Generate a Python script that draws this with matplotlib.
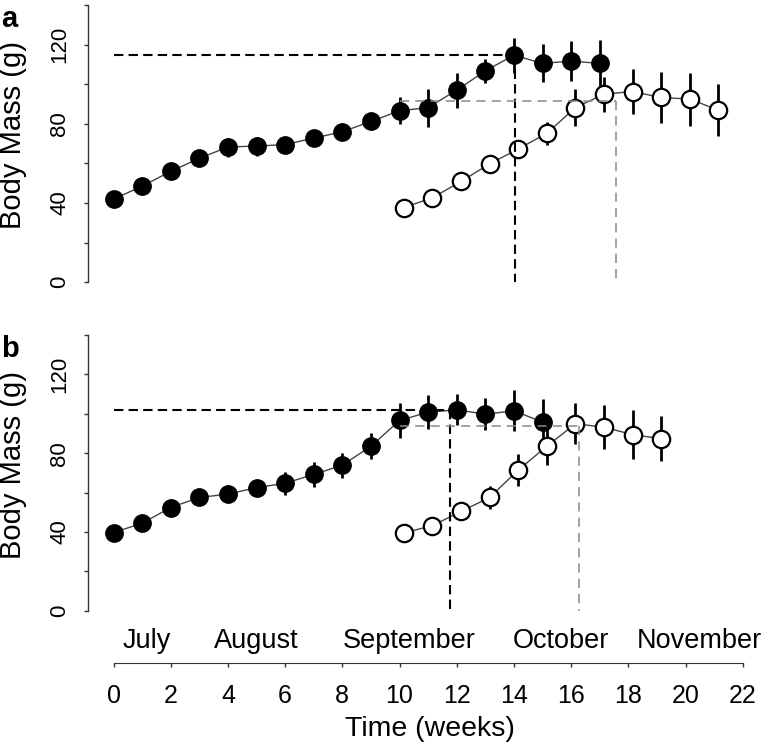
import matplotlib
matplotlib.use("Agg")
import matplotlib.pyplot as plt
from matplotlib.ticker import MultipleLocator

plt.rcParams['font.family'] = ['Liberation Sans', 'DejaVu Sans']

# Panel a: filled = first group, open = second group (weeks, mass g, sd)
weeks_a_fill = [0, 1, 2, 3, 4, 5, 6, 7, 8, 9, 10, 11, 12, 13, 14, 15, 16, 17]
mass_a_fill = [42, 48.5, 56, 62.6, 68.3, 68.8, 69.5, 72.8, 76, 81.2, 86.6, 88.2, 97, 106.7, 114.7, 110.5, 111.7, 110.5]
err_a_fill = [2, 2, 2.5, 3, 4.8, 4.8, 4, 3.5, 3.5, 4, 6.7, 9.6, 8.8, 5.9, 8.8, 9.6, 10, 12]

weeks_a_open = [10.15, 11.15, 12.15, 13.15, 14.15, 15.15, 16.15, 17.15, 18.15, 19.15, 20.15, 21.15]
mass_a_open = [37.7, 42.7, 50.9, 59.8, 67.3, 75.2, 88.2, 95, 96.3, 93.3, 92.5, 86.9]
err_a_open = [1.5, 2, 2, 4, 4.5, 5.9, 9.2, 8.8, 11.3, 12.8, 13.4, 13.2]

# Panel b
weeks_b_fill = [0, 1, 2, 3, 4, 5, 6, 7, 8, 9, 10, 11, 12, 13, 14, 15]
mass_b_fill = [39.7, 44.4, 52.4, 57.5, 59.2, 62.5, 64.7, 69.2, 73.9, 83.5, 96.6, 100.8, 102, 99.8, 101.5, 95.8]
err_b_fill = [2, 2, 2.5, 3, 3.5, 4, 5.9, 6.3, 6.3, 6.7, 8.8, 8.6, 7.8, 8, 10.5, 11.6]

weeks_b_open = [10.15, 11.15, 12.15, 13.15, 14.15, 15.15, 16.15, 17.15, 18.15, 19.15]
mass_b_open = [39.5, 43.2, 50.4, 57.5, 71.4, 83.5, 94.9, 93.2, 89.4, 87.4]
err_b_open = [1.5, 2, 3, 5.9, 8.3, 9.7, 10.5, 11.2, 12.4, 11.5]

# guide lines: (week, mass) of the peak, and start week of the horizontal dash
peak_a_fill = (14.05, 114.7)
peak_a_open = (17.57, 91.6)
peak_b_fill = (11.75, 102)
peak_b_open = (16.27, 93.6)
start_fill = 0
start_open = 10

month_names = ['July', 'August', 'September', 'October', 'November']
month_pos = [1.15, 4.98, 10.34, 15.64, 20.5]
week_ticks = [0, 2, 4, 6, 8, 10, 12, 14, 16, 18, 20, 22]

W, H = 774, 752
XLIM = (-0.892, 23.094)


def px_rect(left, top, right, bottom):
    return [left / W, 1 - bottom / H, (right - left) / W, (bottom - top) / H]


def draw_panel(ax, wf, mf, ef, wo, mo, eo, pk_fill, pk_open, letter):
    # thin connecting lines under everything
    ax.plot(wf, mf, color='#444444', lw=1.0, zorder=1)
    ax.plot(wo, mo, color='#444444', lw=1.0, zorder=1)
    ax.errorbar(wf, mf, yerr=ef, fmt='none', ecolor='black', elinewidth=2.0, capsize=0, zorder=2)
    ax.errorbar(wo, mo, yerr=eo, fmt='none', ecolor='black', elinewidth=2.0, capsize=0, zorder=2)
    ax.plot(wf, mf, 'o', ms=12.5, mfc='black', mec='black', mew=1.0, ls='none', zorder=3)
    ax.plot(wo, mo, 'o', ms=12.5, mfc='white', mec='black', mew=1.6, ls='none', zorder=3)

    # dashed guides drawn on top
    ax.plot([start_fill, pk_fill[0]], [pk_fill[1], pk_fill[1]], color='black', lw=1.5,
            dashes=(4.5, 2.5), zorder=4)
    ax.plot([pk_fill[0], pk_fill[0]], [pk_fill[1], 0], color='black', lw=1.5,
            dashes=(4.5, 2.5), zorder=4)
    ax.plot([start_open, pk_open[0]], [pk_open[1], pk_open[1]], color='#888888', lw=1.1,
            dashes=(6, 4), zorder=4)
    ax.plot([pk_open[0], pk_open[0]], [pk_open[1], 0], color='#888888', lw=1.1,
            dashes=(6, 4), zorder=4)

    ax.set_xlim(*XLIM)
    ax.set_ylim(0, 140)
    for s in ['top', 'right', 'bottom']:
        ax.spines[s].set_visible(False)
    ax.spines['left'].set_color('#333333')
    ax.spines['left'].set_linewidth(1.0)
    ax.set_xticks([])
    ax.yaxis.set_major_locator(MultipleLocator(40))
    ax.yaxis.set_minor_locator(MultipleLocator(20))
    ax.tick_params(axis='y', which='both', length=2.8, width=1.0, color='#333333',
                   labelsize=16, pad=10)
    plt.setp(ax.get_yticklabels(), rotation=90, va='center')
    ax.set_ylabel('Body Mass (g)', fontsize=21)
    ax.yaxis.set_label_coords(-0.0889, 0.53)
    ax.text(-0.127, 1.0, letter, transform=ax.transAxes, fontsize=21, fontweight='bold',
            va='top', ha='left')


fig = plt.figure(figsize=(W / 100, H / 100), dpi=100)
ax_a = fig.add_axes(px_rect(88, 5, 774, 282.3))
ax_b = fig.add_axes(px_rect(88, 335, 774, 610.7))
ax_t = fig.add_axes(px_rect(88, 662.3, 774, 663.3))

draw_panel(ax_a, weeks_a_fill, mass_a_fill, err_a_fill, weeks_a_open, mass_a_open, err_a_open,
           peak_a_fill, peak_a_open, 'a')
draw_panel(ax_b, weeks_b_fill, mass_b_fill, err_b_fill, weeks_b_open, mass_b_open, err_b_open,
           peak_b_fill, peak_b_open, 'b')

# shared time axis below both panels
ax_t.set_xlim(*XLIM)
ax_t.set_yticks([])
for s in ['top', 'right', 'left']:
    ax_t.spines[s].set_visible(False)
ax_t.spines['bottom'].set_bounds(0, 22)
ax_t.spines['bottom'].set_color('#333333')
ax_t.patch.set_visible(False)
ax_t.set_xticks(week_ticks)
ax_t.tick_params(axis='x', length=3, width=1.0, color='#333333', labelsize=18, pad=12)
for name, pos in zip(month_names, month_pos):
    ax_t.annotate(name, xy=(pos, 1), xycoords=('data', 'axes fraction'),
                  xytext=(0, 15.5), textcoords='offset points', ha='center', va='center',
                  fontsize=19.5)
ax_t.annotate('Time (weeks)', xy=(11.05, 0), xycoords=('data', 'axes fraction'),
              xytext=(0, -47.5), textcoords='offset points', ha='center', va='center',
              fontsize=20.5)

fig.savefig('out.png', dpi=100)
